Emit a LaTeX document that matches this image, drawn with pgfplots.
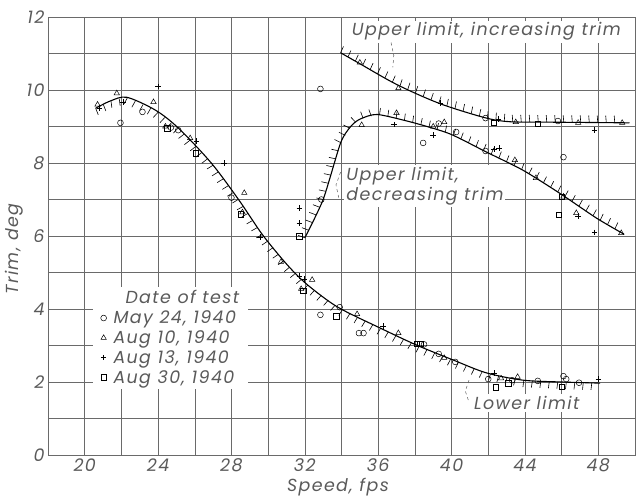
\documentclass[border=0pt]{standalone}
\usepackage{fontspec}
\setmainfont{Poppins}
\usepackage{pgfplots}
\pgfplotsset{compat=1.18}
\usetikzlibrary{decorations.pathreplacing}
\definecolor{txt}{HTML}{5A5A5A}
\definecolor{gridc}{HTML}{6A6A6A}
\newcommand{\lf}{\fontsize{17.5}{20}\selectfont\itshape\addfontfeatures{LetterSpace=8}}
\pgfplotstableread{
x y
20.6 9.5
21.4 9.7
22.3 9.8
23.85 9.45
25.1 8.96
26.9 8.0
28.4 6.99
29.7 6.03
31.06 5.2
32.15 4.66
33.8 4.05
36.1 3.48
38.1 3.01
40.1 2.6
41.9 2.25
43.9 2.05
46.0 2.0
48.1 1.97
}\lowercurve
\pgfplotstableread{
x y
32.0 5.95
33.0 7.0
33.95 8.55
34.5 9.0
35.0 9.2
35.95 9.33
37.95 9.1
39.9 8.8
41.9 8.3
43.9 7.8
45.9 7.17
47.9 6.49
49.4 6.05
}\deccurve
\pgfplotstableread{
x y
33.95 11.02
35.0 10.72
37.05 10.14
39.4 9.62
41.9 9.23
43.2 9.13
45.0 9.12
47.5 9.11
49.7 9.1
}\inccurve
\begin{document}
\begin{tikzpicture}
\begin{axis}[
  name=ax,
  scale only axis, width=587bp, height=438bp,
  xmin=18, xmax=50, ymin=0, ymax=12,
  xtick={20,24,...,48}, ytick={0,2,...,12},
  minor xtick={18,22,...,50}, minor ytick={1,3,...,11},
  grid=both,
  grid style={gridc, line width=0.5bp},
  minor grid style={gridc, line width=0.5bp},
  major tick length=0pt, minor tick length=0pt,
  axis line style={gridc, line width=0.7bp},
  /pgf/number format/assume math mode=true,
  tick label style={font=\lf, text=txt},
  xlabel={Speed, fps}, ylabel={Trim, deg},
  label style={font=\lf, text=txt},
  xlabel style={at={(axis description cs:0.494,-0.073)}, anchor=center},
  ylabel style={at={(axis description cs:-0.058,0.47)}, anchor=center},
  legend style={at={(axis cs:20.45,4.62)}, anchor=north west, draw=none, fill=white,
    font=\lf, text=txt, inner sep=2bp, row sep=1.5bp, nodes={inner xsep=7bp}},
  legend cell align=left,
  mark options={solid, fill=white, line width=0.5bp},
]
% curves
\addplot[forget plot, black, line width=1.1bp, smooth, tension=0.5] table {\lowercurve};
\addplot[forget plot, draw=none, postaction={draw=black, line width=0.6bp, decorate, decoration={border, segment length=8.5bp, amplitude=7bp, angle=-95}}] table {\lowercurve};
\addplot[forget plot, black, line width=1.1bp, smooth, tension=0.4] table {\deccurve};
\addplot[forget plot, draw=none, postaction={draw=black, line width=0.6bp, decorate, decoration={border, segment length=8.5bp, amplitude=7bp, angle=95}}] table {\deccurve};
\addplot[forget plot, black, line width=1.1bp, smooth, tension=0.5] table {\inccurve};
\addplot[forget plot, draw=none, postaction={draw=black, line width=0.6bp, decorate, decoration={border, segment length=8.5bp, amplitude=7bp, angle=95}}] table {\inccurve};
% legend title
\addlegendimage{empty legend}
\addlegendentry{\hspace{12bp}Date of test}
% data
\addplot[only marks, mark=o, mark size=2.9bp, black] coordinates {
 (21.95,9.1) (23.15,9.4) (24.7,8.97) (25.1,8.9) (28.0,7.05) (32.85,10.03) (32.9,7.0)
 (32.85,3.84) (33.9,4.05) (34.95,3.34) (35.2,3.34) (38.5,3.03) (39.3,2.77) (40.2,2.55)
 (42.0,2.08) (43.3,2.05) (44.7,2.03) (46.1,2.16) (46.25,2.08) (46.95,1.98)
 (38.45,8.55) (39.3,9.08) (40.25,8.85) (41.85,9.23) (45.8,9.15) (41.85,8.33) (46.1,8.16)};
\addlegendentry{May 24, 1940}
\addplot[only marks, mark=triangle, mark size=3.1bp, black] coordinates {
 (20.7,9.6) (21.75,9.91) (23.75,9.67) (24.4,9.0) (25.75,8.68) (28.7,7.18) (28.6,6.65)
 (30.7,5.29) (31.8,4.55) (32.4,4.8) (34.85,3.86) (37.1,3.34) (39.6,2.66) (42.7,2.1) (43.6,2.14)
 (35.0,10.75) (37.1,10.05) (43.5,9.12) (46.9,9.1) (49.3,9.1)
 (35.1,9.04) (37.0,9.37) (39.0,9.0) (39.6,9.12) (43.45,8.08) (44.6,7.59) (46.1,7.08) (46.8,6.63) (49.25,6.08)};
\addlegendentry{Aug 10, 1940}
\addplot[only marks, mark=+, mark size=2.8bp, black] coordinates {
 (20.8,9.5) (22.1,9.67) (24.0,10.1) (26.1,8.6) (27.6,8.0) (29.55,5.97) (31.7,6.77) (31.7,6.36)
 (31.7,4.9) (31.95,4.82) (36.25,3.53) (42.3,2.25) (48.0,2.08)
 (39.4,9.64) (42.55,9.2) (47.8,8.9) (36.85,9.05) (39.0,8.77) (42.3,8.38) (42.6,8.41) (47.8,6.1) (46.9,6.55)};
\addlegendentry{Aug 13, 1940}
\addplot[only marks, mark=square, mark size=2.8bp, black] coordinates {
 (24.5,8.95) (26.05,8.27) (28.5,6.6) (31.7,6.0) (31.9,4.5) (33.7,3.8) (38.1,3.05) (38.3,3.05)
 (42.4,1.86) (43.1,1.97) (46.0,1.87) (42.3,9.1) (44.7,9.08) (46.0,7.08) (45.85,6.58)};
\addlegendentry{Aug 30, 1940}
% labels
\node[fill=white, inner sep=2bp, text=txt, font=\lf] at (axis cs:41.9,11.6) {Upper limit, increasing trim};
\node[fill=white, inner sep=2bp, text=txt, font=\lf, align=left, anchor=west] at (axis cs:34.15,7.36) {Upper limit,\\decreasing trim};
\node[fill=white, inner sep=2bp, text=txt, font=\lf] at (axis cs:44.1,1.43) {Lower limit};
% leaders
\draw[txt, dashed, line width=0.5bp] (axis cs:36.7,11.3) -- (axis cs:36.85,10.95) -- (axis cs:36.8,10.62);
\draw[txt, dashed, line width=0.5bp] (axis cs:33.95,7.75) -- (axis cs:33.7,7.4) -- (axis cs:33.85,7.05);
\draw[txt, dashed, line width=0.5bp] (axis cs:40.95,2.05) -- (axis cs:40.75,1.75) -- (axis cs:40.95,1.45);
\end{axis}
\pgfresetboundingbox
\path ([shift={(-48bp,-42bp)}]ax.south west) rectangle ([shift={(1bp,17bp)}]ax.north east);
\end{tikzpicture}
\end{document}
